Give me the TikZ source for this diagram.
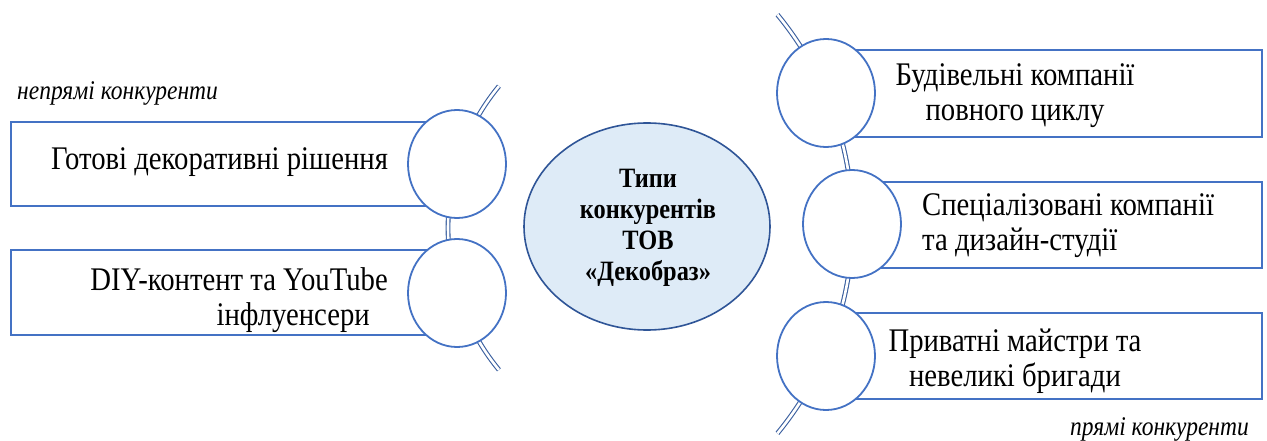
\documentclass[tikz,border=0pt]{standalone}
\usepackage{fontspec}
\setmainfont{Liberation Serif}[FakeStretch=0.87]
\usetikzlibrary{shapes.geometric}
\definecolor{boxblue}{HTML}{4472C4}
\definecolor{arcblue}{HTML}{3A5F9F}
\definecolor{ellfill}{HTML}{DEEBF7}
\definecolor{ellline}{HTML}{2F5597}
\begin{document}
\begin{tikzpicture}[x=1pt,y=1pt,
  boxst/.style={rectangle, draw=boxblue, line width=2pt, fill=white, inner sep=0pt},
  circst/.style={ellipse, draw=boxblue, line width=1.8pt, fill=white, inner sep=0pt, minimum width=98pt, minimum height=108pt},
  arcst/.style={draw=arcblue, line width=1.1pt, double=white, double distance=2.6pt},
  boxtext/.style={inner sep=0pt, font=\fontsize{33}{35}\selectfont},
  labtext/.style={inner sep=0pt, font=\fontsize{27}{30}\selectfont\itshape}]
\useasboundingbox (0,0) rectangle (1267,-441);
% boxes
\node[boxst, minimum width=446pt, minimum height=84pt] (bL1) at (234,-164) {};
\node[boxst, minimum width=446pt, minimum height=85pt] (bL2) at (234,-292.5) {};
\node[boxst, minimum width=436pt, minimum height=87pt] (bR1) at (1044,-93.5) {};
\node[boxst, minimum width=410pt, minimum height=86pt] (bR2) at (1057,-225) {};
\node[boxst, minimum width=436pt, minimum height=86pt] (bR3) at (1044,-356) {};
% arcs
\coordinate (cl) at (671,-228);
\coordinate (cr) at (523,-224);
\draw[arcst] ([shift={(140.5:223)}]cl) arc[start angle=140.5, end angle=219.5, radius=223pt];
\draw[arcst] ([shift={(39.45:329.5)}]cr) arc[start angle=39.45, end angle=-39.45, radius=329.5pt];
% circles
\node[circst] (cL1) at (457,-164) {};
\node[circst] (cL2) at (457,-293) {};
\node[circst] (cR1) at (826,-93) {};
\node[circst] (cR2) at (852,-224) {};
\node[circst] (cR3) at (826,-356) {};
% central ellipse
\node[ellipse, draw=ellline, line width=1.6pt, fill=ellfill, minimum width=246pt, minimum height=207pt, inner sep=0pt] (ctr) at (647,-226.5) {};
\node[inner sep=0pt, align=center, font=\fontsize{28}{31}\selectfont\bfseries] (ctrt) at (648,-227.5) {Типи\\конкурентів\\ТОВ\\«Декобраз»};
% texts
\node[boxtext, anchor=base] (tL1) at (219.5,-170) {Готові декоративні рішення};
\node[boxtext, align=right, anchor=east] (tL2) at (388,-300) {DIY-контент та YouTube\\інфлуенсери\hspace*{18pt}};
\node[boxtext, align=center] (tR1) at (1015,-96) {Будівельні компанії\\повного циклу};
\node[boxtext, align=left, anchor=west] (tR2) at (922,-226) {Спеціалізовані компанії\\та дизайн-студії};
\node[boxtext, align=center] (tR3) at (1015,-361) {Приватні майстри та\\невеликі бригади};
\node[labtext, anchor=base west] (lab1) at (17,-100) {непрямі конкуренти};
\node[labtext, anchor=base west] (lab2) at (1070,-435) {прямі конкуренти};
\end{tikzpicture}
\end{document}
